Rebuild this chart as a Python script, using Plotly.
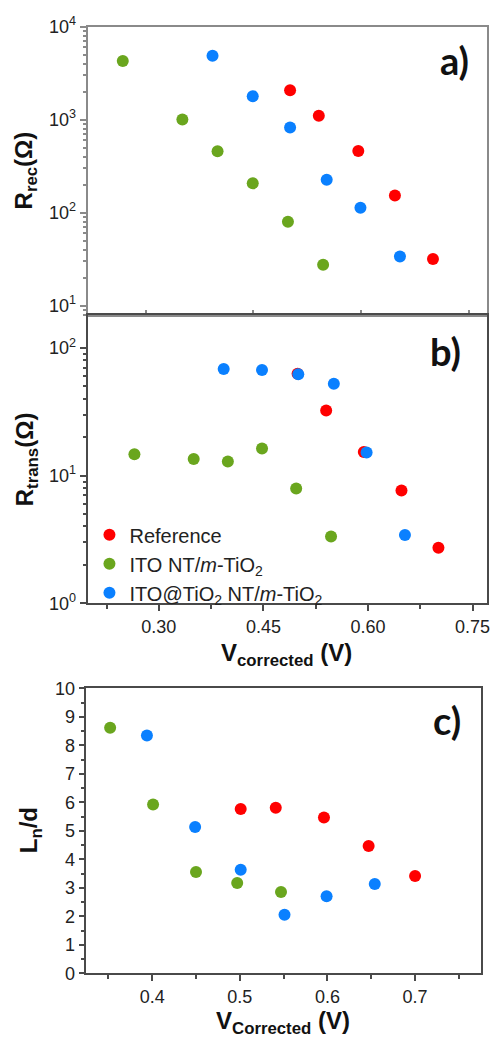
import plotly.graph_objects as go

W, H = 496, 1048

names = ["Reference", "ITO NT/<i>m</i>-TiO<sub>2</sub>", "ITO@TiO<sub>2</sub> NT/<i>m</i>-TiO<sub>2</sub>"]
colors = ["#ff0000", "#6aa61e", "#0a80ff"]

# Panel a) R_rec
a_ref_x = [0.501, 0.541, 0.596, 0.647, 0.700]
a_ref_y = [2070, 1100, 460, 153, 31.8]
a_ito_x = [0.268, 0.351, 0.400, 0.449, 0.498, 0.547]
a_ito_y = [4280, 1007, 457, 207, 80, 27.5]
a_tio_x = [0.393, 0.449, 0.501, 0.552, 0.599, 0.654]
a_tio_y = [4860, 1790, 824, 226, 113, 33.9]

# Panel b) R_trans
b_ref_x = [0.499, 0.540, 0.594, 0.648, 0.701]
b_ref_y = [63.0, 32.4, 15.3, 7.67, 2.72]
b_ito_x = [0.265, 0.350, 0.399, 0.448, 0.497, 0.547]
b_ito_y = [14.7, 13.5, 12.9, 16.3, 7.94, 3.34]
b_tio_x = [0.393, 0.448, 0.500, 0.551, 0.598, 0.653]
b_tio_y = [68.6, 67.4, 62.4, 52.4, 15.2, 3.43]

# Panel c) Ln/d
c_ref_x = [0.501, 0.541, 0.596, 0.647, 0.700]
c_ref_y = [5.77, 5.81, 5.47, 4.47, 3.42]
c_ito_x = [0.352, 0.401, 0.450, 0.497, 0.547]
c_ito_y = [8.62, 5.93, 3.56, 3.17, 2.86]
c_tio_x = [0.394, 0.449, 0.501, 0.551, 0.599, 0.654]
c_tio_y = [8.35, 5.14, 3.64, 2.06, 2.71, 3.14]

# tick labels
a_yticks = [10, 100, 1000, 10000]
a_yticktext = ["10<sup>1</sup>", "10<sup>2</sup>", "10<sup>3</sup>", "10<sup>4</sup>"]
b_yticks = [1, 10, 100]
b_yticktext = ["10<sup>0</sup>", "10<sup>1</sup>", "10<sup>2</sup>"]
b_xticks = [0.30, 0.45, 0.60, 0.75]
b_xticktext = ["0.30", "0.45", "0.60", "0.75"]
c_xticks = [0.4, 0.5, 0.6, 0.7]
c_xticktext = ["0.4", "0.5", "0.6", "0.7"]
c_yticks = [0, 1, 2, 3, 4, 5, 6, 7, 8, 9, 10]

fig = go.Figure()
MS = 12

panels = [
    ("x", "y", [(a_ref_x, a_ref_y), (a_ito_x, a_ito_y), (a_tio_x, a_tio_y)], False),
    ("x2", "y2", [(b_ref_x, b_ref_y), (b_ito_x, b_ito_y), (b_tio_x, b_tio_y)], True),
    ("x3", "y3", [(c_ref_x, c_ref_y), (c_ito_x, c_ito_y), (c_tio_x, c_tio_y)], False),
]
for xa, ya, series, show in panels:
    for i in [1, 0, 2]:
        xs, ys = series[i]
        fig.add_trace(go.Scatter(
            x=xs, y=ys, mode="markers", xaxis=xa, yaxis=ya,
            name=names[i], showlegend=show, legendrank=i,
            marker=dict(size=MS, color=colors[i], line=dict(width=0)),
        ))

def px_x(p):
    return p / W

def px_y(p):
    return 1 - p / H

def log_minor(lo, hi):
    return [m * 10 ** e for e in range(lo, hi) for m in range(2, 10)]

tickfont = dict(family="Liberation Sans, Arial", size=18, color="#222222")
lineA = "#8a8a8a"
lineB = "#4a4a4a"

fig.update_layout(
    width=W, height=H,
    margin=dict(l=0, r=0, t=0, b=0),
    paper_bgcolor="white", plot_bgcolor="white",
    showlegend=True,
    legend=dict(
        x=px_x(90), y=px_y(514), xanchor="left", yanchor="top",
        font=dict(family="Liberation Sans, Arial", size=20, color="#222222"),
        bgcolor="rgba(0,0,0,0)", tracegroupgap=0, itemsizing="constant",
        traceorder="normal",
    ),
    xaxis=dict(
        domain=[px_x(89), px_x(490)], anchor="y", range=[0.2202, 0.7753],
        tickvals=b_xticks, showticklabels=False,
        ticks="inside", ticklen=6, tickcolor=lineA, tickwidth=1.5,
        showline=True, linecolor=lineA, linewidth=1.5, mirror=True,
        showgrid=False, zeroline=False,
    ),
    yaxis=dict(
        domain=[px_y(310), px_y(15)], anchor="x", type="log", range=[0.895, 4.0],
        tickvals=a_yticks, ticktext=a_yticktext, tickfont=tickfont,
        ticks="outside", ticklen=7, tickcolor=lineA, tickwidth=1.5,
        minor=dict(tickvals=log_minor(0, 4), ticks="outside", ticklen=4,
                   tickcolor=lineA, showgrid=False),
        showline=True, linecolor=lineA, linewidth=1.5, mirror=True,
        showgrid=False, zeroline=False,
    ),
    xaxis2=dict(
        domain=[px_x(89), px_x(490)], anchor="y2", range=[0.1991, 0.7707],
        tickvals=b_xticks, ticktext=b_xticktext, tickfont=tickfont,
        ticks="outside", ticklen=6, tickcolor=lineB, tickwidth=1.5,
        minor=dict(tickvals=[0.225, 0.375, 0.525, 0.675], ticks="outside", ticklen=4,
                   tickcolor=lineB, showgrid=False),
        showline=True, linecolor=lineB, linewidth=1.5, mirror=True,
        showgrid=False, zeroline=False,
    ),
    yaxis2=dict(
        domain=[px_y(604), px_y(310)], anchor="x2", type="log", range=[0.0, 2.255],
        tickvals=b_yticks, ticktext=b_yticktext, tickfont=tickfont,
        ticks="outside", ticklen=7, tickcolor=lineB, tickwidth=1.5,
        minor=dict(tickvals=log_minor(0, 3), ticks="outside", ticklen=4,
                   tickcolor=lineB, showgrid=False),
        showline=True, linecolor=lineB, linewidth=1.5, mirror=True,
        showgrid=False, zeroline=False,
    ),
    xaxis3=dict(
        domain=[px_x(87), px_x(484)], anchor="y3", range=[0.325, 0.7753],
        tickvals=c_xticks, ticktext=c_xticktext, tickfont=tickfont,
        ticks="outside", ticklen=6, tickcolor=lineB, tickwidth=1.5,
        minor=dict(tickvals=[0.35, 0.45, 0.55, 0.65, 0.75], ticks="outside", ticklen=4,
                   tickcolor=lineB, showgrid=False),
        showline=True, linecolor=lineB, linewidth=1.5, mirror=True,
        showgrid=False, zeroline=False,
    ),
    yaxis3=dict(
        domain=[px_y(982), px_y(691)], anchor="x3", range=[0, 10],
        tickvals=c_yticks, tickfont=tickfont,
        ticks="outside", ticklen=6, tickcolor=lineB, tickwidth=1.5,
        minor=dict(tickvals=[i + 0.5 for i in range(10)], ticks="outside", ticklen=4,
                   tickcolor=lineB, showgrid=False),
        showline=True, linecolor=lineB, linewidth=1.5, mirror=True,
        showgrid=False, zeroline=False,
    ),
)

titlefont = dict(family="Liberation Sans, Arial", size=24, color="#111111")
labelfont = dict(family="Lato, Open Sans", size=38, color="#111111")

annots = [
    dict(text="<b>R<sub>rec</sub>(Ω)</b>", x=px_x(26), y=px_y(162), textangle=-90, font=titlefont),
    dict(text="<b>R<sub>trans</sub>(Ω)</b>", x=px_x(27), y=px_y(457), textangle=-90, font=titlefont),
    dict(text="<b>L<sub>n</sub>/d</b>", x=px_x(31), y=px_y(836), textangle=-90, font=titlefont),
    dict(text="<b>V<sub>corrected</sub> (V)</b>", x=px_x(288), y=px_y(656), font=titlefont),
    dict(text="<b>V<sub>Corrected</sub> (V)</b>", x=px_x(285), y=px_y(1032), font=titlefont),
    dict(text="<b>a)</b>", x=px_x(457), y=px_y(49), font=labelfont),
    dict(text="<b>b)</b>", x=px_x(448), y=px_y(346), font=labelfont),
    dict(text="<b>c)</b>", x=px_x(450), y=px_y(723), font=labelfont),
]
for a in annots:
    fig.add_annotation(xref="paper", yref="paper", showarrow=False,
                       xanchor="center", yanchor="middle", **a)

fig.write_html("out.html")
